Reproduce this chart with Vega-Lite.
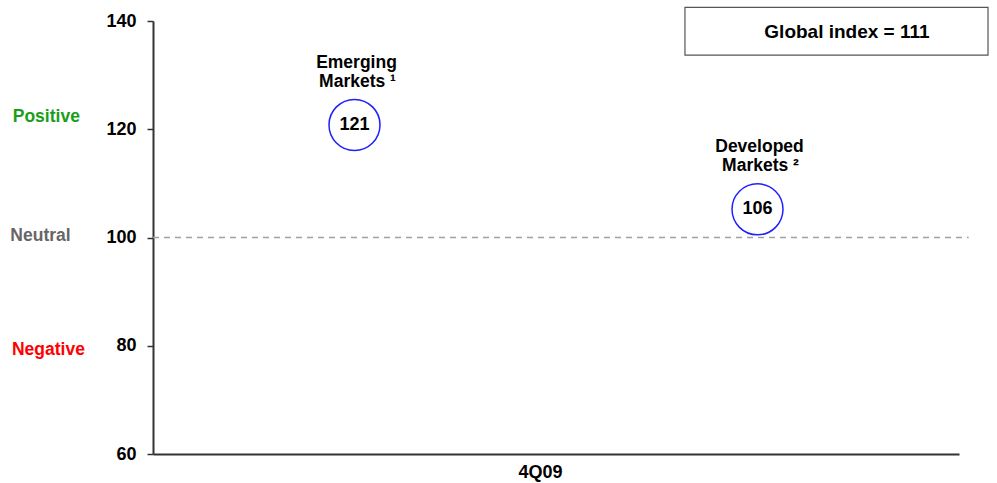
{
  "$schema": "https://vega.github.io/schema/vega-lite/v6.json",
  "width": 806,
  "height": 433,
  "autosize": {"type": "none"},
  "padding": {"left": 153, "top": 21, "right": 38, "bottom": 29},
  "background": "white",
  "config": {"view": {"stroke": null}, "font": "Liberation Sans"},
  "datasets": {
    "refline": [{"pos": 0, "pos2": 101.2, "level": 100}],
    "markets": [
      {"market": "Emerging Markets", "line1": "Emerging", "line2": "Markets ¹", "pos": 25, "level": 120.8, "label": "121"},
      {"market": "Developed Markets", "line1": "Developed", "line2": "Markets ²", "pos": 75, "level": 105.2, "label": "106"}
    ],
    "sentiment": [
      {"sentiment": "Positive", "pos": -17.4, "level": 122.3},
      {"sentiment": "Neutral", "pos": -17.7, "level": 100.2},
      {"sentiment": "Negative", "pos": -17.5, "level": 79.3}
    ],
    "globalbox": [{"pos": 66, "pos2": 103.6, "level": 142.5, "level2": 133.7}],
    "globaltext": [{"pos": 86.1, "level": 138.0, "text": "Global index = 111"}]
  },
  "layer": [
    {
      "data": {"name": "refline"},
      "mark": {"type": "rule", "color": "#a0a0a0", "strokeDash": [6, 5], "strokeWidth": 1.5},
      "encoding": {
        "x": {
          "field": "pos", "type": "quantitative",
          "scale": {"domain": [0, 100], "nice": false, "zero": false},
          "axis": {
            "title": "4Q09", "labels": false, "ticks": false, "grid": false,
            "domainColor": "#333333", "domainWidth": 2,
            "titleFontSize": 18, "titleFontWeight": "bold", "titleColor": "#000000",
            "titleX": 387, "titleY": 18.5, "titleAlign": "center", "titleBaseline": "middle"
          }
        },
        "x2": {"field": "pos2"},
        "y": {
          "field": "level", "type": "quantitative",
          "scale": {"domain": [60, 140], "nice": false, "zero": false},
          "axis": {
            "title": null, "values": [60, 80, 100, 120, 140], "grid": false,
            "domainColor": "#333333", "domainWidth": 2,
            "tickColor": "#333333", "tickWidth": 1.5, "tickSize": 6,
            "labelFontSize": 18, "labelFontWeight": "bold", "labelColor": "#000000",
            "labelPadding": 11
          }
        }
      }
    },
    {
      "data": {"name": "markets"},
      "mark": {"type": "point", "shape": "circle", "filled": false, "size": 2600, "stroke": "#1f1fff", "strokeWidth": 1.5, "opacity": 1},
      "encoding": {
        "x": {"field": "pos", "type": "quantitative", "title": "4Q09"},
        "y": {"field": "level", "type": "quantitative", "title": null}
      }
    },
    {
      "data": {"name": "markets"},
      "mark": {"type": "text", "fontSize": 18, "fontWeight": "bold", "color": "#000000", "baseline": "middle", "align": "center"},
      "encoding": {
        "x": {"field": "pos", "type": "quantitative", "title": "4Q09"},
        "y": {"field": "level", "type": "quantitative", "title": null},
        "text": {"field": "label"}
      }
    },
    {
      "data": {"name": "markets"},
      "mark": {"type": "text", "fontSize": 17.5, "fontWeight": "bold", "color": "#000000", "baseline": "middle", "align": "center", "dy": -62, "dx": 2},
      "encoding": {
        "x": {"field": "pos", "type": "quantitative", "title": "4Q09"},
        "y": {"field": "level", "type": "quantitative", "title": null},
        "text": {"field": "line1"}
      }
    },
    {
      "data": {"name": "markets"},
      "mark": {"type": "text", "fontSize": 17.5, "fontWeight": "bold", "color": "#000000", "baseline": "middle", "align": "center", "dy": -43, "dx": 3},
      "encoding": {
        "x": {"field": "pos", "type": "quantitative", "title": "4Q09"},
        "y": {"field": "level", "type": "quantitative", "title": null},
        "text": {"field": "line2"}
      }
    },
    {
      "data": {"name": "sentiment"},
      "mark": {"type": "text", "fontSize": 17.5, "fontWeight": "bold", "baseline": "middle", "align": "left"},
      "encoding": {
        "x": {"field": "pos", "type": "quantitative", "title": "4Q09"},
        "y": {"field": "level", "type": "quantitative", "title": null},
        "text": {"field": "sentiment"},
        "color": {
          "field": "sentiment", "type": "nominal", "legend": null,
          "scale": {"domain": ["Positive", "Neutral", "Negative"], "range": ["#1a9e1a", "#666666", "#ff0000"]}
        }
      }
    },
    {
      "data": {"name": "globalbox"},
      "mark": {"type": "rect", "fill": "white", "stroke": "#555555", "strokeWidth": 1.2},
      "encoding": {
        "x": {"field": "pos", "type": "quantitative", "title": "4Q09"},
        "x2": {"field": "pos2"},
        "y": {"field": "level", "type": "quantitative", "title": null},
        "y2": {"field": "level2"}
      }
    },
    {
      "data": {"name": "globaltext"},
      "mark": {"type": "text", "fontSize": 19, "fontWeight": "bold", "color": "#000000", "baseline": "middle", "align": "center"},
      "encoding": {
        "x": {"field": "pos", "type": "quantitative", "title": "4Q09"},
        "y": {"field": "level", "type": "quantitative", "title": null},
        "text": {"field": "text"}
      }
    }
  ]
}
